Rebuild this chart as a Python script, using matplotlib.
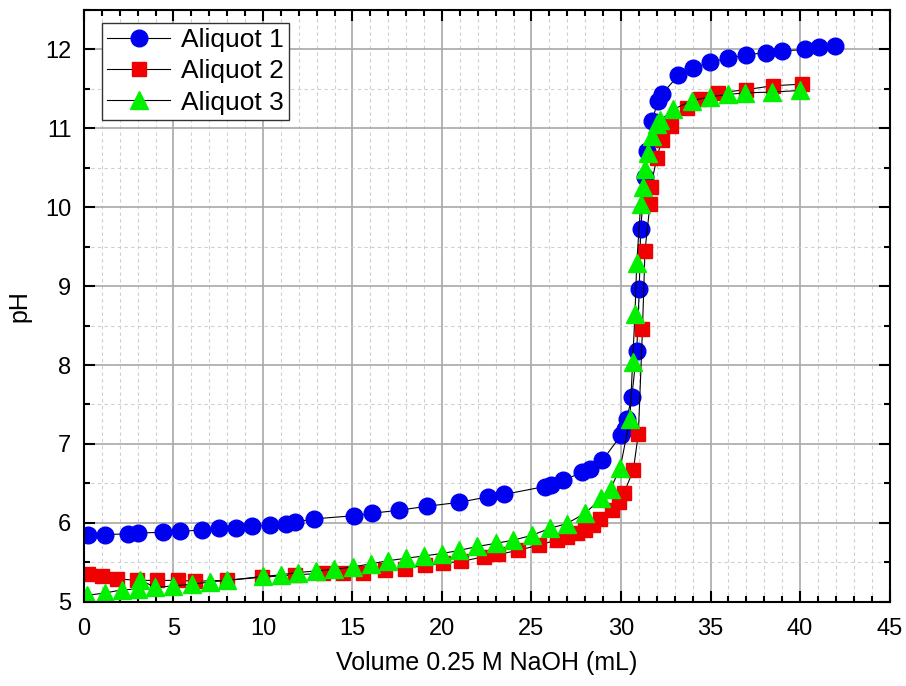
import matplotlib
matplotlib.use("Agg")
import matplotlib.pyplot as plt
from matplotlib.ticker import MultipleLocator

# titration data, volume of 0.25 M NaOH (mL) vs pH
vol1 = [0.24, 1.17, 2.47, 3.0, 4.43, 5.36, 6.58, 7.54, 8.47, 9.41,
        10.39, 11.28, 11.79, 12.87, 15.08, 16.07, 17.6, 19.19, 20.97, 22.59,
        23.48, 25.75, 26.09, 26.78, 27.84, 28.27, 28.96, 30.0, 30.22, 30.32,
        30.6, 30.88, 31.02, 31.1, 31.34, 31.47, 31.72, 32.08, 32.27, 33.2,
        34.0, 34.97, 36.0, 36.98, 38.08, 38.98, 40.28, 41.06, 41.96]
ph1 = [5.85, 5.85, 5.86, 5.87, 5.88, 5.89, 5.91, 5.93, 5.94, 5.96,
       5.97, 5.99, 6.01, 6.05, 6.09, 6.12, 6.16, 6.21, 6.26, 6.33,
       6.36, 6.46, 6.48, 6.54, 6.64, 6.68, 6.79, 7.11, 7.19, 7.32,
       7.59, 8.18, 8.96, 9.73, 10.38, 10.71, 11.09, 11.35, 11.43, 11.67,
       11.76, 11.84, 11.89, 11.93, 11.96, 11.98, 12.0, 12.03, 12.05]

vol2 = [0.2, 0.99, 1.87, 2.96, 4.06, 5.27, 6.2, 7.97, 9.93, 11.79,
        13.37, 14.49, 15.6, 16.82, 17.93, 19.05, 20.07, 21.06, 22.35, 23.15,
        24.26, 25.44, 26.41, 26.97, 27.53, 27.99, 28.46, 28.83, 29.48, 29.91,
        30.17, 30.69, 30.97, 31.2, 31.34, 31.62, 31.66, 32.0, 32.27, 32.77,
        33.7, 34.41, 35.44, 36.98, 38.47, 40.1]
ph2 = [5.35, 5.33, 5.29, 5.27, 5.27, 5.27, 5.26, 5.27, 5.31, 5.34,
       5.36, 5.36, 5.37, 5.40, 5.42, 5.46, 5.49, 5.51, 5.57, 5.60,
       5.65, 5.72, 5.78, 5.82, 5.87, 5.91, 5.97, 6.05, 6.16, 6.26,
       6.38, 6.67, 7.13, 8.46, 9.45, 10.04, 10.26, 10.62, 10.85, 11.03,
       11.26, 11.37, 11.45, 11.49, 11.54, 11.56]

vol3 = [0.15, 1.17, 2.11, 3.03, 3.13, 3.97, 4.99, 6.02, 7.04, 7.97,
        9.98, 10.99, 11.97, 12.96, 13.97, 15.01, 16.02, 17.0, 17.97, 18.99,
        19.98, 20.97, 21.97, 23.02, 23.98, 25.01, 26.03, 26.97, 27.99, 28.9,
        29.42, 29.96, 30.5, 30.65, 30.78, 30.88, 31.1, 31.21, 31.34, 31.53,
        31.72, 32.0, 32.2, 32.92, 33.95, 34.97, 36.0, 36.93, 38.45, 40.0]
ph3 = [5.08, 5.11, 5.15, 5.16, 5.28, 5.18, 5.20, 5.22, 5.25, 5.27,
       5.32, 5.34, 5.37, 5.39, 5.41, 5.44, 5.48, 5.52, 5.55, 5.58,
       5.61, 5.65, 5.70, 5.74, 5.78, 5.84, 5.93, 5.99, 6.12, 6.31,
       6.43, 6.70, 7.32, 8.04, 8.65, 9.29, 10.04, 10.26, 10.48, 10.69,
       10.90, 11.05, 11.10, 11.24, 11.35, 11.40, 11.43, 11.45, 11.46, 11.48]

labels = ["Aliquot 1", "Aliquot 2", "Aliquot 3"]

plt.rcParams['font.family'] = ['Liberation Sans', 'DejaVu Sans']

fig = plt.figure(figsize=(9.06, 6.86), dpi=100)
ax = fig.add_axes([0.0927, 0.1229, 0.8891, 0.8625])

ax.plot(vol1, ph1, '-o', color='black', lw=0.8, ms=12,
        mfc='#0000f0', mec='#0000f0', label=labels[0])
ax.plot(vol2, ph2, '-s', color='black', lw=0.8, ms=10.5,
        mfc='#f00000', mec='#f00000', label=labels[1])
ax.plot(vol3, ph3, '-^', color='black', lw=0.8, ms=12.5,
        mfc='#00f000', mec='#00f000', label=labels[2])

ax.set_xlim(0, 45)
ax.set_ylim(5, 12.5)
ax.xaxis.set_major_locator(MultipleLocator(5))
ax.xaxis.set_minor_locator(MultipleLocator(1))
ax.yaxis.set_major_locator(MultipleLocator(1))
ax.yaxis.set_minor_locator(MultipleLocator(0.5))

ax.grid(which='major', color='#a8a8a8', lw=1.2, ls='-')
ax.grid(which='minor', color='#cfcfcf', lw=0.8, ls=(0, (3, 3)))
ax.set_axisbelow(True)

ax.tick_params(which='both', direction='in', top=True, right=True,
               width=1.5, colors='black')
ax.tick_params(which='major', length=8, labelsize=17)
ax.tick_params(which='minor', length=4.5)
ax.tick_params(axis='y', which='major', pad=9)
ax.tick_params(axis='x', which='major', pad=12)
for s in ax.spines.values():
    s.set_linewidth(1.5)

ax.set_xlabel("Volume 0.25 M NaOH (mL)", fontsize=18, labelpad=8)
ax.set_ylabel("pH", fontsize=18, labelpad=10)

leg = ax.legend(loc='upper left', bbox_to_anchor=(0.022, 0.978), fontsize=19,
                frameon=True, fancybox=False, edgecolor='#333333', framealpha=1,
                handlelength=2.4, handletextpad=0.4, labelspacing=0.27,
                borderpad=0.2, borderaxespad=0, numpoints=1)
leg.get_frame().set_linewidth(1.0)

fig.savefig("out.png", dpi=100)
